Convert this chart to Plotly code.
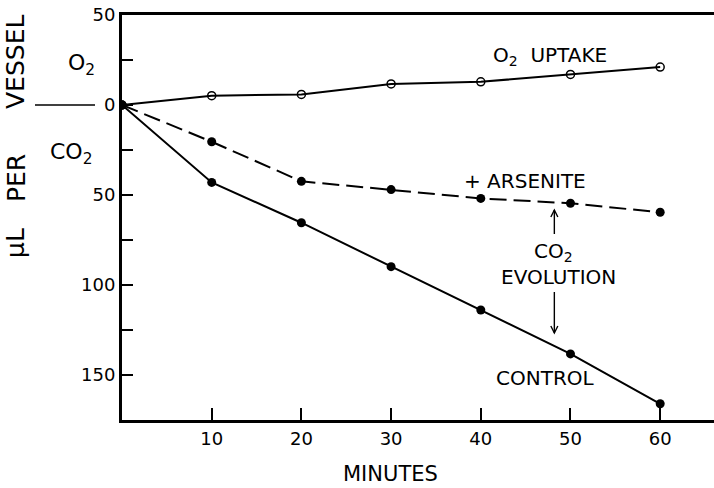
import plotly.graph_objects as go

minutes = [0, 10, 20, 30, 40, 50, 60]
o2_uptake = [0, 5.2, 5.9, 11.7, 12.9, 17.0, 21.1]
co2_arsenite = [0, 20.4, 42.4, 47.0, 51.9, 54.6, 59.6]
co2_control = [0, 43.0, 65.4, 89.8, 113.9, 138.3, 166.0]

y_tickvals = [50, 0, -50, -100, -150]
y_ticktext = ["50", "0", "50", "100", "150"]
y_minor_vals = [25, -25, -75, -125]
x_tickvals = [10, 20, 30, 40, 50, 60]
x_ticktext = ["10", "20", "30", "40", "50", "60"]

FONT = "DejaVu Sans"
W, H = 714, 488
L, R, T, B = 122, 0, 15, 68
XR = [0, 66]
YR = [-175, 50]
pw = W - L - R
ph = H - T - B
sx = pw / (XR[1] - XR[0])   # px per x unit
sy = ph / (YR[1] - YR[0])   # px per y unit

def px_x(p):
    return (p - L) / pw

def px_yp(p):
    # pixel y (from top) -> paper y
    return (ph - (p - T)) / ph

def px_y(p):
    # pixel y (from top) -> data y
    return YR[1] - (p - T) / sy

fig = go.Figure()
fig.add_trace(go.Scatter(
    x=minutes, y=o2_uptake, mode="lines+markers",
    line=dict(color="black", width=2),
    marker=dict(symbol="circle-open", size=8, color="black", line=dict(width=1.5)),
    showlegend=False))
fig.add_trace(go.Scatter(
    x=minutes, y=[-v for v in co2_arsenite], mode="lines+markers",
    line=dict(color="black", width=2, dash="17px,7px"),
    marker=dict(symbol="circle", size=9, color="black"),
    showlegend=False))
fig.add_trace(go.Scatter(
    x=minutes, y=[-v for v in co2_control], mode="lines+markers",
    line=dict(color="black", width=2),
    marker=dict(symbol="circle", size=9, color="black"),
    showlegend=False))

def add_ann(text, xp, yp, size=20, angle=0):
    fig.add_annotation(text=text, x=px_x(xp), y=px_yp(yp), xref="paper", yref="paper",
                       xanchor="center", yanchor="middle", textangle=angle,
                       showarrow=False, font=dict(family=FONT, size=size, color="black"))

add_ann("O<sub>2</sub>  UPTAKE", 550, 56)
add_ann("+ ARSENITE", 525, 181)
add_ann("CO<sub>2</sub>", 553, 252)
add_ann("EVOLUTION", 558, 277)
add_ann("CONTROL", 545, 378)

# arrows (line + open V head)
def arrow(x, y_from, y_to):
    fig.add_shape(type="line", xref="x", yref="y", x0=x, x1=x, y0=y_from, y1=y_to,
                  line=dict(color="black", width=1.4))
    d = 1 if y_to > y_from else -1
    hx = 3.5 / sx
    hy = 7 / sy
    fig.add_shape(type="path", xref="x", yref="y",
                  path=f"M {x-hx},{y_to - d*hy} L {x},{y_to} L {x+hx},{y_to - d*hy}",
                  line=dict(color="black", width=1.4))

arrow(48.2, px_y(234), px_y(210))
arrow(48.2, px_y(292), px_y(333))

# y-axis side labels
add_ann("O<sub>2</sub>", 81, 64, size=22)
add_ann("CO<sub>2</sub>", 71, 153, size=22)
for word, cy in [("μL", 243), ("PER", 178), ("VESSEL", 62)]:
    add_ann(word, 16, cy, size=25, angle=-90)
add_ann("MINUTES", 390, 474, size=21)

# line left of zero label
fig.add_shape(type="line", xref="paper", yref="y", x0=px_x(35), x1=px_x(95), y0=0, y1=0,
              line=dict(color="black", width=1.6))

fig.update_xaxes(range=XR, tickvals=x_tickvals, ticktext=x_ticktext, ticks="inside", ticklen=12,
                 tickwidth=1.6, tickcolor="black", showline=True, linecolor="black", linewidth=3,
                 mirror=True, showgrid=False, zeroline=False,
                 tickfont=dict(family=FONT, size=18, color="black"))
fig.update_yaxes(range=YR, tickvals=y_tickvals, ticktext=y_ticktext, ticks="inside", ticklen=11,
                 tickwidth=1.6, tickcolor="black", showline=True, linecolor="black", linewidth=3,
                 showgrid=False, zeroline=False,
                 minor=dict(tickmode="array", tickvals=y_minor_vals, ticks="inside", ticklen=11,
                            tickwidth=1.6, tickcolor="black", showgrid=False),
                 tickfont=dict(family=FONT, size=18, color="black"))

fig.update_layout(width=W, height=H, margin=dict(l=L, r=R, t=T, b=B, pad=0),
                  plot_bgcolor="white", paper_bgcolor="white")

fig.write_html("out.html")
